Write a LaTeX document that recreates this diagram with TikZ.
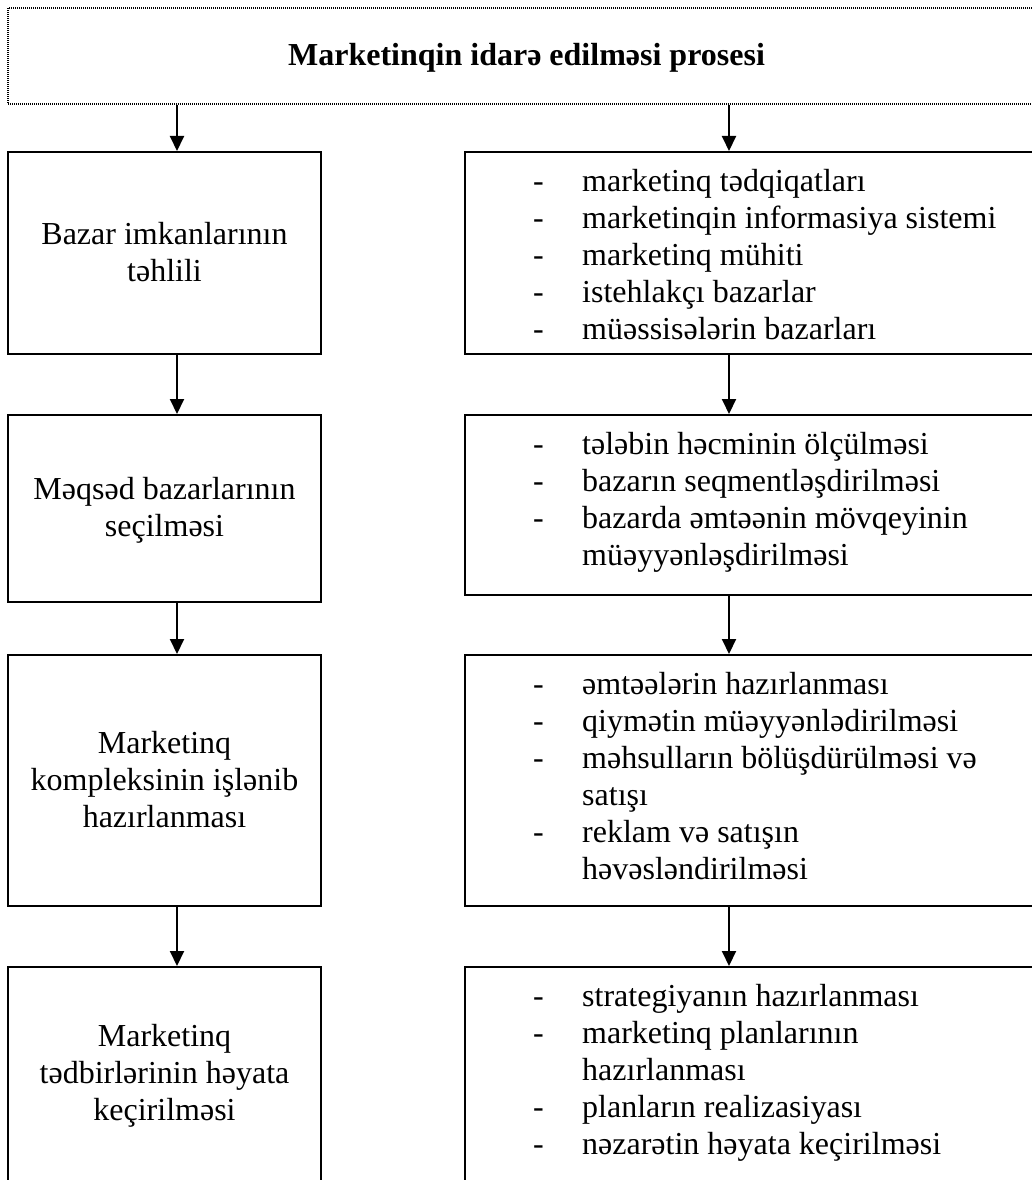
\documentclass[tikz,border=0pt]{standalone}
\usepackage{fontspec}
\setmainfont{Liberation Serif}
\usetikzlibrary{arrows.meta}
% line helpers: a strut keeps every line 37pt apart
\newcommand\tstrut{\rule[-9pt]{0pt}{37pt}}
\newcommand\itm[1]{\makebox[49pt][l]{-}#1\tstrut}
\newcommand\cnt[1]{\hspace*{49pt}#1\tstrut}

\begin{document}
\begin{tikzpicture}[x=1pt,y=-1pt,
  txt/.style={font=\fontsize{32pt}{37pt}\selectfont},
  stage/.style={draw, line width=2pt, minimum width=313pt, inner sep=0pt,
                align=center, txt},
  detail/.style={draw, line width=2pt, minimum width=580pt, inner sep=0pt},
  list/.style={anchor=north west, inner sep=0pt, align=left, txt},
  head/.style={draw=black, line width=1.2pt, dash pattern=on 1pt off 1pt,
               minimum width=1037pt, minimum height=96pt, inner sep=0pt,
               font=\fontsize{32pt}{37pt}\selectfont\bfseries},
  flow/.style={line width=2pt, -{Triangle[length=15pt,width=14pt]}}
]
\useasboundingbox (0,0) rectangle (1032,1180);
\clip (0,0) rectangle (1032,1180);

% heading
\node[head] (head) at (526.5,56) {\tstrut Marketinqin idarə edilməsi prosesi};

% left column: stages
\node[stage, minimum height=202pt] (l1) at (164.5,253)
  {\tstrut Bazar imkanlarının\\\tstrut təhlili};
\node[stage, minimum height=187pt] (l2) at (164.5,508.5)
  {\tstrut Məqsəd bazarlarının\\\tstrut seçilməsi};
\node[stage, minimum height=251pt] (l3) at (164.5,780.5)
  {\tstrut Marketinq\\\tstrut kompleksinin işlənib\\\tstrut hazırlanması};
\node[stage, minimum height=214pt] (l4) at (164.5,1074)
  {\tstrut Marketinq\\\tstrut tədbirlərinin həyata\\\tstrut keçirilməsi};

% right column: details
\node[detail, minimum height=202pt] (r1) at (755,253) {};
\node[detail, minimum height=180pt] (r2) at (755,505) {};
\node[detail, minimum height=251pt] (r3) at (755,780.5) {};
\node[detail, minimum height=214pt] (r4) at (755,1074) {};

\node[list] (r1t) at (533,163.5) {%
  \itm{marketinq tədqiqatları}\\
  \itm{marketinqin informasiya sistemi}\\
  \itm{marketinq mühiti}\\
  \itm{istehlakçı bazarlar}\\
  \itm{müəssisələrin bazarları}};
\node[list] (r2t) at (533,426.5) {%
  \itm{tələbin həcminin ölçülməsi}\\
  \itm{bazarın seqmentləşdirilməsi}\\
  \itm{bazarda əmtəənin mövqeyinin}\\
  \cnt{müəyyənləşdirilməsi}};
\node[list] (r3t) at (533,666.5) {%
  \itm{əmtəələrin hazırlanması}\\
  \itm{qiymətin müəyyənlədirilməsi}\\
  \itm{məhsulların bölüşdürülməsi və}\\
  \cnt{satışı}\\
  \itm{reklam və satışın}\\
  \cnt{həvəsləndirilməsi}};
\node[list] (r4t) at (533,978.5) {%
  \itm{strategiyanın hazırlanması}\\
  \itm{marketinq planlarının}\\
  \cnt{hazırlanması}\\
  \itm{planların realizasiyası}\\
  \itm{nəzarətin həyata keçirilməsi}};

% arrow columns
\coordinate (lx) at (177,0);
\coordinate (rx) at (729,0);

\draw[flow] (head.south -| lx) -- (l1.north -| lx);
\draw[flow] (l1.south -| lx) -- (l2.north -| lx);
\draw[flow] (l2.south -| lx) -- (l3.north -| lx);
\draw[flow] (l3.south -| lx) -- (l4.north -| lx);

\draw[flow] (head.south -| rx) -- (r1.north -| rx);
\draw[flow] (r1.south -| rx) -- (r2.north -| rx);
\draw[flow] (r2.south -| rx) -- (r3.north -| rx);
\draw[flow] (r3.south -| rx) -- (r4.north -| rx);
\end{tikzpicture}
\end{document}
